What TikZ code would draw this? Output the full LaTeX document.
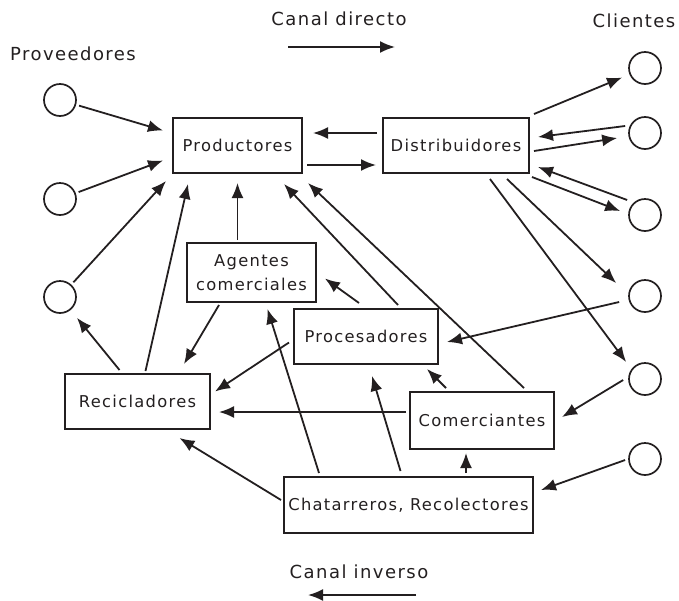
\documentclass[tikz,border=0pt]{standalone}
\usepackage{fontspec}
\newfontfamily\diagfont{DejaVu Sans}[LetterSpace=8]
\usepackage{xcolor}
\usetikzlibrary{%
   arrows.meta,%
   calc,%
   positioning}
\definecolor{ink}{RGB}{35,31,32}
\tikzset{>={Latex[width=12pt,length=15pt]}}
\tikzset{
  flow edge/.style={
    ->,
    ink,
    line width = 1.8pt,
  },
  to circle/.style={
    flow edge,
    shorten >= 8pt,
  },
  from circle/.style={
    flow edge,
    shorten <= 3pt,
  },
  title/.style={
    font = \diagfont\fontsize{18}{22}\selectfont,
  },
}

\begin{document}
\begin{tikzpicture}[
            x = 1pt, y = -1pt, % one unit per pixel, y going down
            font = \diagfont\fontsize{16.3}{24}\selectfont,
            text = ink,
            on grid
        ]

        \tikzstyle{box}=[
            rectangle,
            draw = ink,
            line width = 2pt,
            minimum height = 55pt,
            inner sep = 0pt,
            align = center
        ]
        \tikzstyle{actor}=[
            circle,
            draw = ink,
            line width = 1.7pt,
            minimum size = 32pt,
            inner sep = 0pt
        ]

        \useasboundingbox (0,0) rectangle (679,600);

        % titles
        \node[title] (directo) at (339,19) {Canal directo};
        \node[title] (inverso) at (359,572) {Canal inverso};
        \node[title] (prov) at (73,54) {Proveedores};
        \node[title] (cli) at (634,21) {Clientes};
        \coordinate (d1) at (288,47);
        \coordinate (d2) at (395,47);
        \coordinate (i1) at (416,595);
        \coordinate (i2) at (308,595);
        \draw[flow edge] (d1) -- (d2);
        \draw[flow edge] (i1) -- (i2);

        \node[box, minimum width=129pt] (prod) at (237.5,145.5) {Productores};
        \node[box, minimum width=146pt] (dist) [right=218.5pt of prod] {Distribuidores};
        \node[box, minimum width=129pt, minimum height=59pt] (agen) at (251.5,272.5) {Agentes\\comerciales};
        \node[box, minimum width=144pt] (proc) at (366,336.5) {Procesadores};
        \node[box, minimum width=145pt] (reci) at (137.5,401.5) {Recicladores};
        \node[box, minimum width=144pt, minimum height=57pt] (come) at (482,420.5) {Comerciantes};
        \node[box, minimum width=249pt, minimum height=56pt] (chat) at (408.5,505) {Chatarreros, Recolectores};

        \node[actor] (p1) at (60,100) {};
        \node[actor] (p2) [below=99pt of p1] {};
        \node[actor] (p3) [below=98pt of p2] {};

        \node[actor] (c1) at (645,68) {};
        \node[actor] (c2) [below=65pt of c1] {};
        \node[actor] (c3) [below=82pt of c2] {};
        \node[actor] (c4) [below=81pt of c3] {};
        \node[actor] (c5) [below=83pt of c4] {};
        \node[actor] (c6) [below=80pt of c5] {};

        % canal directo
        \path[from circle] (p1) edge ($(prod.west)+(-9,-15)$);
        \path[from circle] (p2) edge ($(prod.west)+(-9,15)$);
        \path[from circle] (p3) edge ($(prod.south west)+(-6,7)$);
        \path[flow edge] ($(prod.east)+(4,19.5)$) edge ($(dist.west)+(-6,19.5)$);
        \path[flow edge] ($(dist.west)+(-5,-12.5)$) edge ($(prod.east)+(10,-12.5)$);
        \path[to circle] ($(dist.north east)+(4,-3)$) edge (c1);
        \path[flow edge] ($(c2.west)+(-3,-7)$) edge ($(dist.east)+(8,-8.5)$);
        \path[flow edge] ($(dist.east)+(4,5.5)$) edge ($(c2.west)+(-11,5)$);
        \path[flow edge] ($(c3.west)+(-1,-15)$) edge ($(dist.south east)+(8,-7)$);
        \path[flow edge] ($(dist.south east)+(2,3)$) edge ($(c3.west)+(-8,-4)$);
        \path[flow edge] ($(dist.south)+(51,5)$) edge ($(c4.west)+(-12,-13)$);
        \path[flow edge] ($(dist.south)+(34,5)$) edge ($(c5.west)+(-2,-17)$);

        % canal inverso
        \path[flow edge] ($(c4.west)+(-9,6)$) edge ($(proc.east)+(8,5.5)$);
        \path[flow edge] ($(c5.west)+(-5,1)$) edge ($(come.east)+(7,-3.5)$);
        \path[flow edge] ($(c6.west)+(-3,1)$) edge ($(chat.east)+(7,-15)$);
        \path[flow edge] ($(chat.north)+(57.5,-3)$) edge ($(come.south)+(-16,3)$);
        \path[flow edge] ($(chat.north)+(-8,-5)$) edge ($(proc.south)+(6,11)$);
        \path[flow edge] ($(chat.north west)+(36,-3)$) edge ($(agen.south)+(16,6)$);
        \path[flow edge] ($(chat.west)+(-2,-5)$) edge ($(reci.south)+(42,8)$);
        \path[flow edge] ($(come.north west)+(37,-3)$) edge ($(proc.south east)+(-12,4)$);
        \path[flow edge] ($(come.west)+(-3,-8.5)$) edge ($(reci.east)+(8,10.5)$);
        \path[flow edge] ($(come.north)+(42,-3)$) edge ($(prod.south east)+(5,9)$);
        \path[flow edge] ($(proc.west)+(-4,6)$) edge ($(reci.east)+(4,-10)$);
        \path[flow edge] ($(proc.north)+(32,-3)$) edge ($(prod.south east)+(-19,10)$);
        \path[flow edge] ($(proc.north west)+(66,-5)$) edge ($(agen.east)+(8,6)$);
        \path[flow edge] ($(agen.south west)+(33,2)$) edge ($(reci.north east)+(-27,-9)$);
        \path[flow edge] ($(agen.north)+(-14,-2)$) edge ($(prod.south)+(0,9)$);
        \path[flow edge] ($(reci.north)+(8,-2)$) edge ($(prod.south west)+(16,10)$);
        \path[to circle, shorten >= 10pt] ($(reci.north)+(-18,-3)$) edge (p3);

\end{tikzpicture}
\end{document}
